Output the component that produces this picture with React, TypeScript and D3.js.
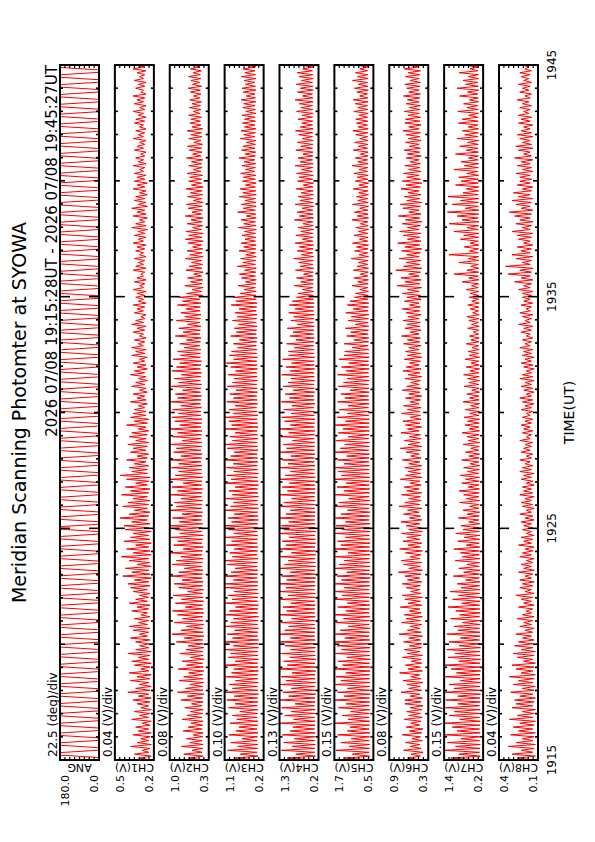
import React from "react";
import * as d3 from "d3";

const W = 595;
const H = 842;
const FONT = "DejaVu Sans";

// time axis, minutes after 19:15 UT
const timeTicks = [0, 10, 20, 30];
const timeLabels = ["1915", "1925", "1935", "1945"];

const panelNames = ["ANG", "CH1(V)", "CH2(V)", "CH3(V)", "CH4(V)", "CH5(V)", "CH6(V)", "CH7(V)", "CH8(V)"];
const panelMax = [180, 0.5, 1.0, 1.1, 1.3, 1.7, 0.9, 1.4, 0.4];
const panelMin = [0, 0.2, 0.3, 0.2, 0.2, 0.5, 0.3, 0.2, 0.1];
const maxLabels = ["180.0", "0.5", "1.0", "1.1", "1.3", "1.7", "0.9", "1.4", "0.4"];
const minLabels = ["0.0", "0.2", "0.3", "0.2", "0.2", "0.5", "0.3", "0.2", "0.1"];
const divLabels = ["22.5 (deg)/div", "0.04 (V)/div", "0.08 (V)/div", "0.10 (V)/div", "0.13 (V)/div",
  "0.15 (V)/div", "0.08 (V)/div", "0.15 (V)/div", "0.04 (V)/div"];

// scan angle (deg), turning points of the meridian scan
const ang = [
  0,0,180,180,0,0,180,180,0,0,180,180,0,0,180,180,0,0,180,180,0,0,180,180,
  0,0,180,180,0,0,180,180,0,0,180,180,0,0,180,180,0,0,180,180,0,0,180,180,
  0,0,180,180,0,0,180,180,0,0,180,180,0,0,180,180,0,0,180,180,0,0,180,180,
  0,0,180,180,0,0,180,180,0,0,180,180,0,0,180,180,0,0,180,180,0,0,180,180,
  0,0,180,180,0,0,180,180,0,0,180,180,0,0,180,180,0,0,180,180,0,0,180,180,
  0,0,180,180,0,0,180,180,0,0,180,180,0,0,180,180,0,0,180,180,0,0,180,180,
  0,0,180,180,0,0,180,180,0,0,180,180,0,0,180,180,0,0,180,180,0,0,180,180,
  0,0,180,180,0,0,180,180,0,0,180,180,0,0,180,180,0,0,180,180,0,0,180,180,
  0,0,180,180,0,0,180,180,0,0,180,180,0,0,180,180,0,0,180,180,0,0,180,180,
  0,0,180,180,0,0,180,180,0,0,180,180,0,0,180,180,0,0,180,180,0,0,180,180,
  0,0,180,180,0,0,180,180,0,0,180,180,0,0,180,180,0,0,180,180,0,0,180,180,
  0,0,180,180,0,0,180,180,0,0,180,180,0,0,180,180,0,0,180,180,
];

// channel outputs in units of 0.01 V, one row per 2.5 minutes
const ch1 = [
  23,31,22,35,24,29,23,38,22,33,24,30,23,36,22,32,24,34,23,29,22,37,24,31,23,35,22,30,24,33,
  23,36,22,32,24,40,23,34,22,31,24,38,23,33,22,39,24,30,23,35,22,37,24,32,23,40,22,34,24,31,
  24,34,23,38,25,31,24,36,23,39,25,32,24,35,23,30,25,37,24,33,23,39,25,34,24,31,23,36,25,38,
  23,40,24,35,22,44,23,37,24,42,22,33,23,39,24,45,22,36,23,41,24,34,22,43,23,38,24,36,22,42,
  24,43,23,37,25,46,24,39,23,35,25,44,24,40,23,36,25,45,24,38,23,42,25,34,24,41,23,46,25,37,
  25,39,24,35,26,41,25,33,24,38,26,36,25,40,24,34,26,39,25,37,24,32,26,41,25,35,24,38,26,36,
  26,35,27,32,25,38,26,33,27,36,25,31,26,37,27,34,25,32,26,38,27,35,25,33,26,36,27,31,25,37,
  27,34,26,37,28,32,27,35,26,31,28,36,27,33,26,37,28,34,27,30,26,35,28,33,27,36,26,32,28,34,
  27,33,26,36,28,31,27,35,26,33,28,30,27,36,26,34,28,32,27,35,26,31,28,34,27,33,26,36,28,32,
  26,35,27,32,25,37,26,34,27,31,25,36,26,33,27,37,25,32,26,35,27,34,25,31,26,36,27,33,25,35,
  27,33,26,35,28,31,27,36,26,32,28,34,27,30,26,35,28,33,27,31,26,36,28,32,27,34,26,31,28,35,
  27,34,26,32,28,36,27,31,26,35,28,33,27,36,26,30,28,34,27,32,26,35,28,31,27,33,26,36,28,34,
];
const ch2 = [
  41,66,40,75,42,60,41,79,40,64,42,70,41,58,40,76,42,67,41,62,40,78,42,69,41,63,40,73,42,61,
  40,80,41,68,39,86,40,72,41,64,39,83,40,75,41,66,39,85,40,70,41,78,39,63,40,82,41,71,39,67,
  40,88,41,74,39,96,40,80,41,70,39,92,40,77,41,86,39,95,40,72,41,90,39,79,40,94,41,68,39,84,
  41,92,40,78,42,99,41,84,40,74,42,96,41,88,40,80,42,100,41,76,40,93,42,86,41,98,40,82,42,90,
  42,100,41,83,43,95,42,78,41,100,43,88,42,92,41,80,43,99,42,86,41,96,43,76,42,100,41,90,43,84,
  43,97,42,84,44,100,43,80,42,93,44,88,43,99,42,78,44,95,43,86,42,100,44,82,43,91,42,96,44,85,
  44,95,43,80,45,98,44,86,43,90,45,77,44,97,43,84,45,92,44,79,43,96,45,88,44,82,43,94,45,81,
  45,86,44,74,46,82,45,70,44,90,46,76,45,84,44,68,46,88,45,73,44,80,46,71,45,86,44,77,46,83,
  41,70,43,60,40,73,42,63,41,68,43,57,40,71,42,65,41,61,43,72,40,64,42,69,41,59,43,67,40,72,
  42,66,40,71,43,59,41,69,42,62,40,72,43,60,41,67,42,70,40,58,43,68,41,63,42,71,40,61,43,66,
  43,64,41,69,44,58,42,66,43,61,41,70,44,59,42,65,43,68,41,57,44,66,42,62,43,69,41,60,44,64,
  45,62,43,66,46,58,44,65,45,60,43,64,46,57,44,63,45,67,43,59,46,62,44,66,45,58,43,63,46,61,
];
const ch3 = [
  34,88,33,74,35,103,34,80,33,96,35,70,34,100,33,84,35,77,34,98,33,82,35,92,34,75,33,101,35,86,
  33,105,34,88,32,110,33,92,34,99,32,85,33,108,34,94,32,89,33,110,34,86,32,102,33,96,34,110,32,90,
  33,110,32,92,34,104,33,87,32,110,34,96,33,90,32,107,34,99,33,85,32,110,34,93,33,102,32,88,34,108,
  34,108,33,90,35,110,34,95,33,86,35,104,34,110,33,92,35,98,34,88,33,106,35,94,34,110,33,89,35,101,
  33,110,34,94,32,102,33,88,34,110,32,96,33,90,34,108,32,92,33,100,34,86,32,110,33,95,34,104,32,89,
  34,106,35,90,33,110,34,96,35,88,33,104,34,110,35,92,33,98,34,86,35,108,33,94,34,100,35,110,33,91,
  35,100,36,86,34,105,35,90,36,98,34,84,35,104,36,92,34,88,35,102,36,85,34,96,35,106,36,89,34,99,
  36,94,35,80,37,90,36,76,35,96,37,83,36,88,35,78,37,92,36,81,35,86,37,77,36,95,35,84,37,89,
  38,74,37,65,39,79,38,62,37,71,39,76,38,64,37,81,39,68,38,73,37,61,39,77,38,66,37,72,39,63,
  38,70,39,64,37,78,38,66,39,72,37,60,38,80,39,67,37,71,38,63,39,76,37,68,38,74,39,62,37,69,
  39,67,38,73,40,62,39,70,38,65,40,77,39,63,38,71,40,68,39,60,38,74,40,66,39,72,38,64,40,69,
  39,64,40,70,38,61,39,68,40,66,38,72,39,60,40,67,38,70,39,62,40,65,38,71,39,63,40,68,38,66,
];
const ch4 = [
  30,108,29,84,31,125,30,95,29,118,31,88,30,122,29,100,31,92,30,128,29,90,31,115,30,97,29,124,31,86,
  29,130,30,104,28,120,29,97,30,130,28,112,29,125,30,95,28,130,29,108,30,118,28,101,29,127,30,99,28,115,
  30,128,29,100,31,130,30,115,29,104,31,126,30,96,29,130,31,110,30,120,29,98,31,127,30,106,29,130,31,112,
  29,130,30,110,28,124,29,100,30,130,28,116,29,105,30,128,28,97,29,130,30,112,28,122,29,103,30,130,28,118,
  30,125,29,104,31,130,30,112,29,100,31,127,30,118,29,96,31,130,30,108,29,122,31,102,30,130,29,114,31,99,
  31,128,30,106,32,122,31,98,30,130,32,110,31,119,30,94,32,126,31,104,30,130,32,100,31,116,30,124,32,97,
  32,118,33,95,31,125,32,102,33,114,31,92,32,120,33,106,31,98,32,124,33,100,31,112,32,96,33,121,31,104,
  33,105,32,88,34,110,33,84,32,100,34,92,33,108,32,80,34,98,33,90,32,104,34,86,33,102,32,94,34,82,
  35,78,34,65,36,88,35,70,34,82,36,62,35,85,34,72,36,76,35,90,34,68,36,80,35,74,34,86,36,66,
  35,84,36,70,34,78,35,64,36,88,34,74,35,80,36,66,34,86,35,72,36,77,34,69,35,83,36,63,34,79,
  36,75,35,82,37,68,36,86,35,72,37,78,36,64,35,84,37,70,36,80,35,66,37,76,36,85,35,71,37,67,
  36,78,37,66,35,82,36,70,37,74,35,86,36,65,37,79,35,71,36,83,37,68,35,75,36,80,37,64,35,77,
];
const ch5 = [
  62,138,61,115,63,165,62,125,61,150,63,118,62,160,61,130,63,122,62,168,61,128,63,145,62,120,61,158,63,134,
  61,170,62,140,60,160,61,130,62,170,60,150,61,165,62,135,60,170,61,145,62,158,60,132,61,168,62,148,60,162,
  62,168,61,138,63,170,62,152,61,128,63,166,62,142,61,170,63,135,62,160,61,130,63,168,62,146,61,170,63,140,
  61,170,62,148,60,162,61,132,62,170,60,155,61,140,62,168,60,128,61,170,62,150,60,160,61,136,62,170,60,145,
  62,165,61,136,63,170,62,150,61,130,63,168,62,156,61,126,63,170,62,140,61,162,63,134,62,170,61,148,63,158,
  63,168,62,140,64,160,63,132,62,170,64,152,63,138,62,166,64,128,63,158,62,144,64,170,63,136,62,162,64,130,
  64,155,65,128,63,160,64,138,65,150,63,122,64,158,65,142,63,130,64,160,65,134,63,148,64,126,65,156,63,140,
  65,138,64,115,66,140,65,110,64,132,66,120,65,136,64,106,66,128,65,118,64,135,66,112,65,130,64,122,66,108,
  66,105,65,92,67,115,66,98,65,110,67,90,66,112,65,100,67,96,66,118,65,94,67,108,66,102,65,114,67,93,
  66,110,67,96,65,104,66,90,67,116,65,100,66,108,67,92,65,114,66,98,67,102,65,95,66,112,67,94,65,106,
  67,100,66,110,68,94,67,115,66,98,68,106,67,90,66,112,68,96,67,108,66,92,68,104,67,113,66,97,68,102,
  67,104,68,94,66,110,67,98,68,106,66,112,67,92,68,101,66,108,67,96,68,114,66,99,67,105,68,91,66,109,
];
const ch6 = [
  40,62,42,56,38,68,41,58,43,65,39,55,42,70,40,59,38,64,43,57,41,67,39,60,42,63,40,58,38,66,
  41,66,39,58,43,72,40,60,42,63,38,69,41,57,43,74,39,61,42,65,40,56,41,70,39,62,43,67,40,59,
  40,68,42,60,39,75,41,62,43,58,40,71,42,64,39,67,41,59,43,73,40,61,42,66,39,70,41,57,43,64,
  42,70,40,62,43,66,41,76,39,60,42,68,40,72,43,58,41,65,39,74,42,61,40,69,43,63,41,71,39,60,
  41,64,43,72,40,59,42,68,44,62,40,75,43,66,41,60,42,71,40,63,44,67,41,58,43,73,40,65,42,61,
  42,66,40,60,43,70,41,57,44,64,42,73,40,61,43,67,41,59,42,72,44,62,40,65,43,69,41,58,42,71,
  43,62,41,68,44,58,42,65,40,60,43,70,41,63,44,57,42,66,40,61,43,69,41,64,44,59,42,67,40,62,
  42,65,44,60,41,68,43,62,42,71,44,58,41,66,43,63,42,69,44,61,41,64,43,70,42,59,44,67,41,63,
  42,70,44,62,40,78,43,66,41,72,44,60,42,80,40,68,43,64,41,75,44,63,42,71,40,66,43,77,41,62,
  43,68,41,74,44,62,42,70,40,65,43,76,41,60,44,69,42,73,40,63,43,67,41,61,44,72,42,64,40,70,
  42,63,44,68,41,60,43,66,42,58,44,64,41,62,43,67,42,59,44,65,41,61,43,64,42,69,44,60,41,66,
  43,65,42,61,44,67,43,59,42,64,44,62,43,68,42,60,44,63,43,66,42,58,44,65,43,61,42,67,44,62,
];
const ch7 = [
  30,120,29,95,31,140,30,105,29,130,31,88,30,138,29,100,31,115,30,140,29,92,31,125,30,108,29,136,31,98,
  29,135,30,98,28,140,29,110,30,125,28,90,29,138,30,102,28,118,29,140,30,95,28,128,29,106,30,132,28,94,
  30,125,31,90,29,132,30,98,31,110,29,84,30,120,31,92,29,104,30,128,31,86,29,114,30,96,31,122,29,88,
  31,100,30,74,32,112,31,80,30,95,32,70,31,106,30,84,32,90,31,110,30,72,32,98,31,78,30,104,32,82,
  32,88,31,64,33,96,32,70,31,82,33,62,32,92,31,72,33,80,32,94,31,66,33,86,32,74,31,90,33,68,
  32,80,31,60,33,86,32,64,31,74,33,58,32,82,31,66,33,70,32,85,31,62,33,76,32,68,31,79,33,61,
  32,75,33,58,31,82,32,62,33,70,31,55,32,78,33,64,31,68,32,80,33,60,31,72,32,57,33,76,31,63,
  33,66,32,54,34,72,33,58,32,62,34,50,33,68,32,56,34,64,33,70,32,52,34,60,33,67,32,55,34,63,
  34,60,33,72,35,56,34,85,33,64,35,110,34,70,33,58,35,95,34,66,33,125,35,62,34,78,33,60,35,90,
  34,80,33,110,35,70,34,125,33,85,35,100,34,130,33,75,35,115,34,90,33,128,35,82,34,72,33,105,35,88,
  35,95,34,70,36,110,35,78,34,88,36,65,35,105,34,72,36,92,35,68,34,100,36,76,35,84,34,66,36,96,
  35,85,36,64,34,98,35,70,36,80,34,62,35,92,36,68,34,100,35,74,36,82,34,66,35,94,36,60,34,88,
];
const ch8 = [
  13,26,12,30,14,23,13,33,12,27,14,22,13,31,12,25,14,29,13,24,12,32,14,26,13,22,12,30,14,27,
  13,28,12,24,14,31,13,22,12,29,14,25,13,32,12,23,14,27,13,30,12,21,14,26,13,29,12,23,14,28,
  14,25,13,22,15,27,14,20,13,24,15,21,14,26,13,22,15,19,14,25,13,21,15,23,14,27,13,20,15,24,
  14,22,13,24,15,20,14,25,13,21,15,23,14,19,13,24,15,22,14,20,13,25,15,21,14,23,13,19,15,22,
  14,21,15,23,13,20,14,24,15,19,13,22,14,23,15,20,13,24,14,21,15,22,13,19,14,23,15,21,13,24,
  15,22,14,20,16,24,15,19,14,23,16,21,15,20,14,24,16,19,15,22,14,21,16,23,15,20,14,22,16,19,
  14,23,15,20,13,22,14,24,15,19,13,21,14,23,15,20,13,24,14,22,15,19,13,21,14,23,15,20,13,22,
  15,21,14,24,16,20,15,22,14,19,16,23,15,21,14,25,16,20,15,22,14,24,16,19,15,23,14,21,16,22,
  15,22,14,25,16,21,15,28,14,23,16,33,15,24,14,35,16,22,15,27,14,30,16,23,15,26,14,21,16,25,
  15,26,14,30,16,22,15,27,14,24,16,28,15,32,14,23,16,27,15,30,14,25,16,29,15,22,14,26,16,24,
  15,24,16,27,14,22,15,26,16,23,14,28,15,21,16,25,14,27,15,22,16,24,14,26,15,23,16,21,14,25,
  16,23,15,25,17,21,16,24,15,22,17,26,16,20,15,24,17,22,16,25,15,21,17,23,16,24,15,20,17,22,
];

const series = [ang, ch1, ch2, ch3, ch4, ch5, ch6, ch7, ch8];
const unit = [1, 0.01, 0.01, 0.01, 0.01, 0.01, 0.01, 0.01, 0.01];

// layout is drawn landscape and turned onto the portrait page
const X0 = 82;
const X1 = 777;
const TOP0 = 60;
const STEP = 54.875;
const PH = 39;

const Panel = ({ i, x }: { i: number; x: d3.ScaleLinear<number, number> }) => {
  const top = TOP0 + i * STEP;
  const y = d3.scaleLinear().domain([panelMin[i], panelMax[i]]).range([top + PH, top]);
  const data = series[i];
  const n = data.length;
  const t = d3.scaleLinear().domain([0, n - 1]).range([0, 30]);
  const line = d3
    .line<number>()
    .x((_, k) => x(t(k)))
    .y((d) => y(d * unit[i]));

  const minutes = d3.range(1, 30);
  const divs = d3.range(1, 8);

  return (
    <g>
      <clipPath id={`clip${i}`}>
        <rect x={X0} y={top} width={X1 - X0} height={PH} />
      </clipPath>
      <path d={line(data) || ""} fill="none" stroke="#ff0000" strokeWidth={1} clipPath={`url(#clip${i})`} />
      {minutes.map((m) => {
        const len = m % 10 === 0 ? 10 : m % 5 === 0 ? 5 : 3;
        return (
          <g key={m}>
            <line x1={x(m)} x2={x(m)} y1={top} y2={top + len} stroke="#000" strokeWidth={1.6} />
            <line x1={x(m)} x2={x(m)} y1={top + PH} y2={top + PH - len} stroke="#000" strokeWidth={1.6} />
          </g>
        );
      })}
      {divs.map((k) => {
        const yy = top + (k * PH) / 8;
        return (
          <g key={k}>
            <line x1={X0} x2={X0 + 3} y1={yy} y2={yy} stroke="#000" strokeWidth={1.2} />
            <line x1={X1} x2={X1 - 3} y1={yy} y2={yy} stroke="#000" strokeWidth={1.2} />
          </g>
        );
      })}
      <rect x={X0} y={top} width={X1 - X0} height={PH} fill="none" stroke="#000" strokeWidth={2} />
      <text x={X0 + 3} y={top - 3} fontSize={12} fontFamily={FONT}>{divLabels[i]}</text>
      <text x={67} y={top + 9} fontSize={11} fontFamily={FONT} textAnchor="end">{maxLabels[i]}</text>
      <text x={67} y={top + PH - 1} fontSize={11} fontFamily={FONT} textAnchor="end">{minLabels[i]}</text>
      <text
        transform={`translate(78,${top + PH / 2}) rotate(-90)`}
        fontSize={11}
        fontFamily={FONT}
        textAnchor="middle"
      >
        {panelNames[i]}
      </text>
    </g>
  );
};

export default function App() {
  const x = d3.scaleLinear().domain([0, 30]).range([X0, X1]);
  const lastBottom = TOP0 + 8 * STEP + PH;
  return (
    <svg width={W} height={H} style={{ position: "absolute", left: 0, top: 0, background: "#fff" }}>
      <g transform={`translate(0,${H}) rotate(-90)`}>
        <text x={(X0 + X1) / 2} y={26} fontSize={19} fontFamily={FONT} textAnchor="middle">
          Meridian Scanning Photomter at SYOWA
        </text>
        <text x={X1} y={57} fontSize={15} fontFamily={FONT} textAnchor="end">
          2026 07/08 19:15:28UT - 2026 07/08 19:45:27UT
        </text>
        {series.map((_, i) => (
          <Panel key={i} i={i} x={x} />
        ))}
        {timeTicks.map((m, k) => (
          <text key={m} x={x(m)} y={lastBottom + 18} fontSize={12} fontFamily={FONT} textAnchor="middle">
            {timeLabels[k]}
          </text>
        ))}
        <text x={(X0 + X1) / 2} y={lastBottom + 36} fontSize={14} fontFamily={FONT} textAnchor="middle">
          TIME(UT)
        </text>
      </g>
    </svg>
  );
}
